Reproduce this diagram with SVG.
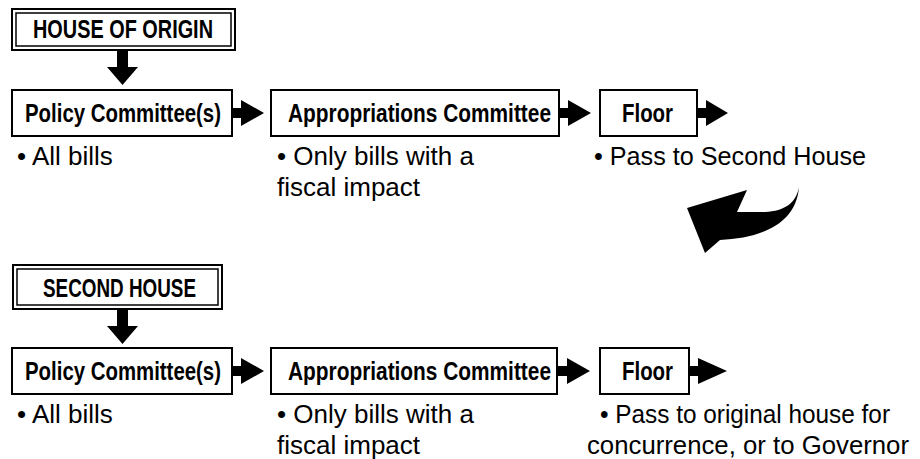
<svg xmlns="http://www.w3.org/2000/svg" width="920" height="459" viewBox="0 0 920 459">
<style>
.box{fill:#fff;stroke:#000;stroke-width:2}
.inner{fill:none;stroke:#000;stroke-width:1.5}
.lbl{font-family:"Liberation Sans Narrow","Liberation Sans",Arial,sans-serif;font-weight:bold;font-size:25px;fill:#000}
.txt{font-family:"Liberation Sans",Arial,sans-serif;font-size:26px;fill:#000}
.arr{fill:#000;stroke:none}
</style>
<rect width="920" height="459" fill="#fff"/>

<g id="house-of-origin">
<rect class="box" x="12" y="9" width="223" height="41"/>
<rect class="inner" x="16" y="13" width="215" height="33"/>
<text class="lbl" x="33" y="38" textLength="180" lengthAdjust="spacingAndGlyphs">HOUSE OF ORIGIN</text>
</g>
<g id="policy-1">
<rect class="box" x="12" y="90" width="220" height="46"/>
<text class="lbl" x="25" y="122" textLength="196" lengthAdjust="spacingAndGlyphs">Policy Committee(s)</text>
<text class="txt" x="17" y="165">• All bills</text>
</g>
<g id="appropriations-1">
<rect class="box" x="271" y="90" width="288" height="46"/>
<text class="lbl" x="288" y="122" textLength="263" lengthAdjust="spacingAndGlyphs">Appropriations Committee</text>
<text class="txt" x="277" y="165">• Only bills with a</text>
<text class="txt" x="277" y="196">fiscal impact</text>
</g>
<g id="floor-1">
<rect class="box" x="600" y="90" width="97" height="46"/>
<text class="lbl" x="622" y="122" textLength="51" lengthAdjust="spacingAndGlyphs">Floor</text>
<text class="txt" x="594" y="165" textLength="272" lengthAdjust="spacingAndGlyphs">• Pass to Second House</text>
</g>

<g id="second-house">
<rect class="box" x="13" y="265" width="209" height="44"/>
<rect class="inner" x="17" y="269" width="201" height="36"/>
<text class="lbl" x="43" y="297" textLength="153" lengthAdjust="spacingAndGlyphs">SECOND HOUSE</text>
</g>
<g id="policy-2">
<rect class="box" x="12" y="348" width="220" height="46"/>
<text class="lbl" x="25" y="380" textLength="196" lengthAdjust="spacingAndGlyphs">Policy Committee(s)</text>
<text class="txt" x="17" y="423">• All bills</text>
</g>
<g id="appropriations-2">
<rect class="box" x="271" y="348" width="286" height="46"/>
<text class="lbl" x="288" y="380" textLength="263" lengthAdjust="spacingAndGlyphs">Appropriations Committee</text>
<text class="txt" x="277" y="423">• Only bills with a</text>
<text class="txt" x="277" y="454">fiscal impact</text>
</g>
<g id="floor-2">
<rect class="box" x="600" y="348" width="89" height="46"/>
<text class="lbl" x="622" y="380" textLength="51" lengthAdjust="spacingAndGlyphs">Floor</text>
<text class="txt" x="600" y="423" textLength="290" lengthAdjust="spacingAndGlyphs">• Pass to original house for</text>
<text class="txt" x="587" y="454" textLength="322" lengthAdjust="spacingAndGlyphs">concurrence, or to Governor</text>
</g>

<g id="connectors">
<path class="arr" d="M117 50H128V67H138L122.5 85L107 67H117Z"/>
<path class="arr" d="M232 108H241V100L264 113L241 126V118H232Z"/>
<path class="arr" d="M559 108H568V100L591 113L568 126V118H559Z"/>
<path class="arr" d="M697 108H706V100L728 113L706 126V118H697Z"/>
<path class="arr" d="M799 187C796 203 785 211 765 212L737 212L747 190L687 208L705 253L720 240C760 238 796 225 799 187Z"/>
<path class="arr" d="M117 309H128V326H138L122.5 344L107 326H117Z"/>
<path class="arr" d="M232 366H241V358L264 371L241 384V376H232Z"/>
<path class="arr" d="M557 366H567V358L590 371L567 384V376H557Z"/>
<path class="arr" d="M689 366H698V358L727 371L698 384V376H689Z"/>
</g>
</svg>
